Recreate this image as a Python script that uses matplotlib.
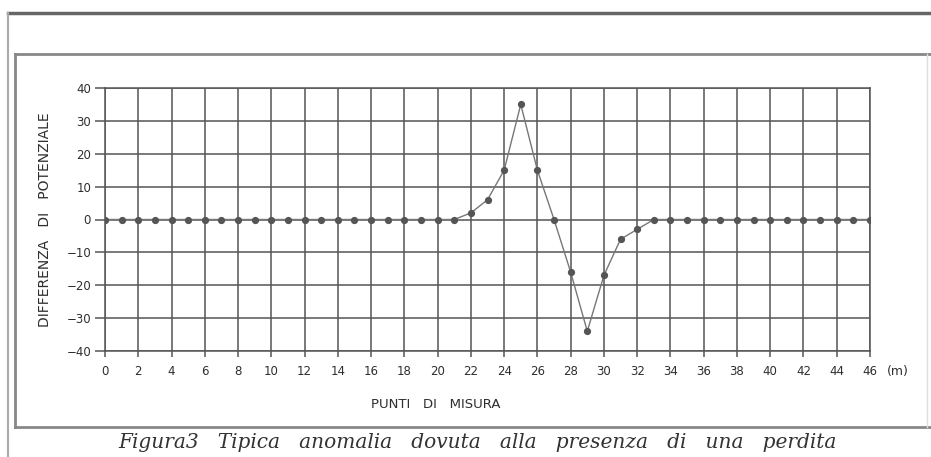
import numpy as np
import matplotlib
matplotlib.use("Agg")
from matplotlib import pyplot as plt
from matplotlib.lines import Line2D

# measurement points (m) and potential difference
punti = list(range(0, 47))
differenza = [0] * 22 + [2, 6, 15, 35, 15, 0, -16, -34, -17, -6, -3, 0] + [0] * 13
x_ticks = list(range(0, 47, 2))
y_ticks = list(range(-40, 41, 10))

GRID = "#555555"
TXT = "#2e2e2e"

fig = plt.figure(figsize=(9.31, 4.57), dpi=100)
ax = fig.add_axes([105 / 931, 106 / 457, 765 / 931, 263 / 457])

ax.plot(punti, differenza, color="#777777", lw=1.0, zorder=3)
ax.plot(punti, differenza, "o", color="#555555", ms=4.2, mec="#555555", zorder=4)

ax.set_xlim(0, 46)
ax.set_ylim(-40, 40)
ax.set_xticks(x_ticks)
ax.set_yticks(y_ticks)
ax.grid(True, color=GRID, lw=1.1)
for s in ax.spines.values():
    s.set_color(GRID)
    s.set_linewidth(1.1)
ax.tick_params(axis="x", direction="out", length=4, width=1.1, color=GRID,
               labelsize=8.5, labelcolor=TXT, pad=6)
ax.tick_params(axis="y", direction="out", length=7, width=1.1, color=GRID,
               labelsize=8.5, labelcolor=TXT, pad=3)
ax.set_axisbelow(True)

ax.set_ylabel("DIFFERENZA   DI   POTENZIALE", fontsize=10, color=TXT, labelpad=10)
fig.text(436 / 931, 1 - 405 / 457, "PUNTI   DI   MISURA", fontsize=9.5, color=TXT,
         ha="center", va="center")
fig.text(898 / 931, 1 - 372 / 457, "(m)", fontsize=9, color=TXT,
         ha="center", va="center")

fig.text(478 / 931, 1 - 443 / 457,
         "Figura3   Tipica   anomalia   dovuta   alla   presenza   di   una   perdita",
         fontsize=14.5, family="DejaVu Serif", style="italic", color="#333333",
         ha="center", va="center")

# page frame lines
def fline(x0, y0, x1, y1, c="#777777", lw=2.0):
    fig.add_artist(Line2D([x0 / 931, x1 / 931], [1 - y0 / 457, 1 - y1 / 457],
                          color=c, lw=lw, transform=fig.transFigure))

fline(8, 13, 931, 13, c="#666666", lw=2.5)
fline(8, 13, 8, 457, c="#aaaaaa", lw=1.5)
fline(15, 54, 931, 54, c="#888888", lw=2.0)
fline(15, 54, 15, 427, c="#888888", lw=2.0)
fline(15, 427, 931, 427, c="#888888", lw=2.0)
fline(927, 54, 927, 427, c="#dddddd", lw=1.0)

fig.savefig("out.png", dpi=100)
